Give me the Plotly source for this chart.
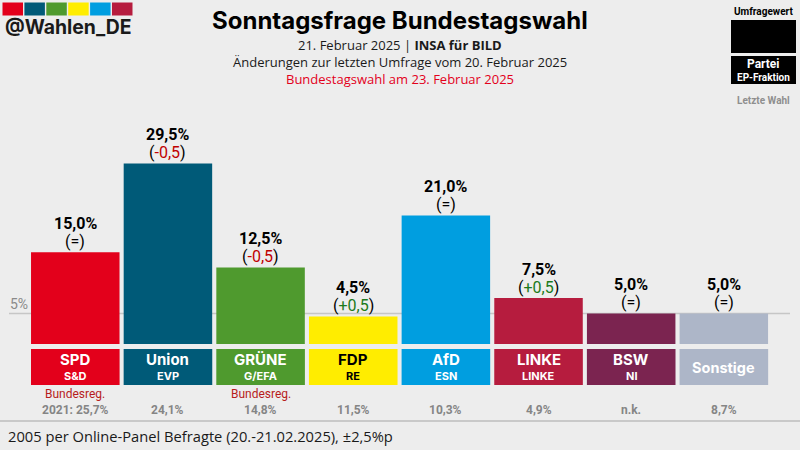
import plotly.graph_objects as go

parties = ["SPD", "Union", "GRÜNE", "FDP", "AfD", "LINKE", "BSW", "Sonstige"]
groups = ["S&D", "EVP", "G/EFA", "RE", "ESN", "LINKE", "NI", ""]
values = [15.0, 29.5, 12.5, 4.5, 21.0, 7.5, 5.0, 5.0]
value_labels = ["15,0%", "29,5%", "12,5%", "4,5%", "21,0%", "7,5%", "5,0%", "5,0%"]
changes = ["=", "-0,5", "-0,5", "+0,5", "=", "+0,5", "=", "="]
last_vote = ["2021: 25,7%", "24,1%", "14,8%", "11,5%", "10,3%", "4,9%", "n.k.", "8,7%"]
notes = ["Bundesreg.", "", "Bundesreg.", "", "", "", "", ""]
colors = ["#E3001B", "#005A78", "#4F9A2E", "#FFED00", "#009EE0", "#B61C3E", "#7B2450", "#ADB6C8"]
name_colors = ["white", "white", "white", "black", "white", "white", "white", "white"]
logo_colors = ["#E3001B", "#005A78", "#4F9A2E", "#FFED00", "#009EE0", "#B61C3E"]

W, H = 800, 450
BASE = 344
PX_PER_PCT = 6.12
BG = "#EDEDED"


def px(x):
    return x / W


def py(y):
    return 1 - y / H


def change_text(c):
    if c.startswith("-"):
        return "(<span style='color:#C00000'>" + c + "</span>)"
    if c.startswith("+"):
        return "(<span style='color:#1B7A1B'>" + c + "</span>)"
    return "(" + c + ")"


def text(x, y, s, size, color="black", font="Open Sans", xanchor="center", xref="paper"):
    xpos = px(x) if xref == "paper" else x
    return dict(x=xpos, y=py(y), xref=xref, yref="paper", text=s, showarrow=False,
                xanchor=xanchor, yanchor="middle", font=dict(family=font, size=size, color=color))


def box(x0, y0, x1, y1, color):
    return dict(type="rect", xref="paper", yref="paper", x0=px(x0), x1=px(x1), y0=py(y1), y1=py(y0),
                fillcolor=color, line_width=0, layer="above")


fig = go.Figure(go.Bar(x=list(range(8)), y=values, marker_color=colors, marker_line_width=0, width=0.955))

shapes = []
annotations = []

# grid line at 5 %
shapes.append(dict(type="line", xref="paper", yref="y", x0=px(9), x1=px(790), y0=5, y1=5,
                   line=dict(color="#C6C6C6", width=1.5), layer="below"))
annotations.append(text(7.5, 304, "5%", 14, "#8A8A8A", "Roboto", "left"))

# value labels above the bars
for i, v in enumerate(values):
    annotations.append(dict(x=i, y=v, xref="x", yref="y", yanchor="middle", yshift=29, showarrow=False,
                            text="<b>" + value_labels[i] + "</b>",
                            font=dict(family="Roboto", size=16, color="black")))
    annotations.append(dict(x=i, y=v, xref="x", yref="y", yanchor="middle", yshift=11, showarrow=False,
                            text=change_text(changes[i]),
                            font=dict(family="Roboto", size=16, color="black")))

# party boxes and rows below
STEP = 92.65
LEFT = 31
for i, p in enumerate(parties):
    x0 = LEFT + i * STEP
    cx = x0 + 44.3
    shapes.append(box(x0, 349, x0 + 88.6, 385, colors[i]))
    if groups[i]:
        annotations.append(text(cx, 359, "<b>" + p + "</b>", 15, name_colors[i], "Inter"))
        annotations.append(text(cx, 376, "<b>" + groups[i] + "</b>", 11, name_colors[i], "Inter"))
    else:
        annotations.append(text(cx, 367, "<b>" + p + "</b>", 14.5, name_colors[i], "Inter"))
    if notes[i]:
        annotations.append(text(cx, 394, notes[i], 12, "#B71C1C", "Roboto"))
    annotations.append(text(cx, 410, "<b>" + last_vote[i] + "</b>", 12, "#858585", "Roboto"))

# logo
for i, c in enumerate(logo_colors):
    shapes.append(box(2.5 + i * 21.9, 2.5, 23 + i * 21.9, 15.5, c))
annotations.append(text(2.5, 27, "<b>@Wahlen_DE</b>", 19.4, "#1A1A1A", "Inter", "left"))

# titles
annotations.append(text(400, 21, "<b>Sonntagsfrage Bundestagswahl</b>", 24, "black", "Inter"))
annotations.append(text(400, 45, "21. Februar 2025 | <b>INSA für BILD</b>", 13, "#1A1A1A"))
annotations.append(text(400, 62, "Änderungen zur letzten Umfrage vom 20. Februar 2025", 13, "#1A1A1A"))
annotations.append(text(400, 79, "Bundestagswahl am 23. Februar 2025", 13, "#E3001B"))

# legend
annotations.append(text(763, 11, "<b>Umfragewert</b>", 10, "black", "Roboto"))
shapes.append(box(731, 20, 796, 53, "black"))
shapes.append(box(731, 56, 796, 84, "black"))
annotations.append(text(763, 64, "<b>Partei</b>", 12, "white", "Roboto"))
annotations.append(text(763, 77.5, "<b>EP-Fraktion</b>", 10, "white", "Roboto"))
annotations.append(text(763, 100, "<b>Letzte Wahl</b>", 10, "#8F8F8F", "Roboto"))

# footer
shapes.append(dict(type="line", xref="paper", yref="paper", x0=0, x1=1, y0=py(421), y1=py(421),
                   line=dict(color="#BDBDBD", width=1.5)))
annotations.append(text(6, 436, "2005 per Online-Panel Befragte (20.-21.02.2025), ±2,5%p", 14.7, "#1A1A1A", "Open Sans", "left"))

fig.update_layout(
    width=W, height=H, autosize=False, showlegend=False,
    margin=dict(l=0, r=0, t=0, b=0),
    paper_bgcolor=BG, plot_bgcolor=BG,
    xaxis=dict(domain=[px(LEFT - 2.05), px(LEFT - 2.05 + 8 * STEP)], range=[-0.5, 7.5], visible=False),
    yaxis=dict(domain=[py(BASE), 1], range=[0, BASE / PX_PER_PCT], visible=False),
    shapes=shapes, annotations=annotations,
)

# the page's default body margin would shift the chart by 8px
fig.write_html("out.html", config={"displayModeBar": False},
               post_script="document.body.style.margin='0';document.body.style.overflow='hidden';")
